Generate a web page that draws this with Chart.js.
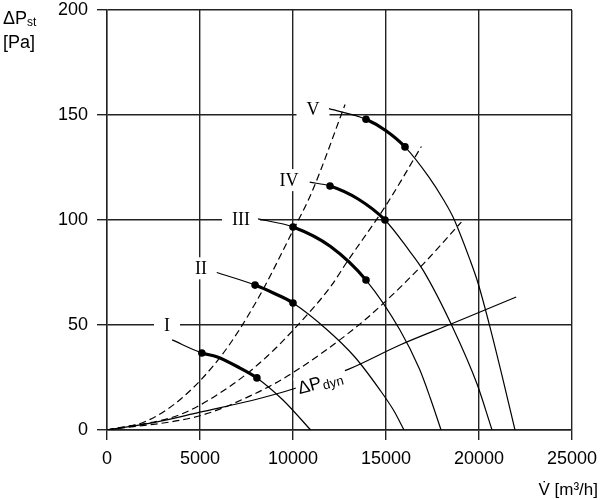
<!DOCTYPE html>
<html>
<head>
<meta charset="utf-8">
<script src="https://cdn.jsdelivr.net/npm/chart.js@4"></script>
<style>
  html, body { margin: 0; padding: 0; background: #fff; }
  #wrap { width: 600px; height: 500px; }
</style>
</head>
<body>
<div id="wrap"><canvas id="fanChart" width="600" height="500"></canvas></div>
<script>
const xTicks = [0, 5000, 10000, 15000, 20000, 25000];
const yTicks = [0, 50, 100, 150, 200];

// fan curves I..V  (flow m3/h, static pressure Pa), dots = thick part between them
const curveIFlow = [3500, 5100, 5900, 7150, 8060, 9460, 10950];
const curveIPress = [42.9, 36.7, 34.9, 29.5, 24.8, 14.3, 0];
const curveIDots = [1, 4];

const curveIIFlow = [5900, 7960, 9000, 10000, 11800, 13300, 14680, 15400, 15970];
const curveIIPress = [75, 69, 65, 60.5, 48, 35, 19, 9.5, 0];
const curveIIDots = [1, 3];

const curveIIIFlow = [8120, 10000, 12000, 13925, 15750, 16800, 17370, 17960];
const curveIIIPress = [100.5, 96.7, 87.5, 71.4, 47.6, 29, 15.5, 0];
const curveIIIDots = [1, 3];

const curveIVFlow = [10900, 11990, 13500, 14946, 16200, 17000, 18600, 19890, 20700];
const curveIVPress = [118, 116.2, 110, 100, 86, 76, 48.6, 22, 0];
const curveIVDots = [1, 3];

const curveVFlow = [11935, 13925, 15000, 16022, 17300, 18100, 18602, 19516, 19946, 20591, 21290, 21935];
const curveVPress = [153, 148, 142.5, 134.8, 120.5, 109.5, 101.4, 81, 70, 49, 24, 0];
const curveVDots = [1, 3];

// system curves (dashed)
const sys1Flow = [0, 2000, 4000, 6200, 8050, 10000, 11000, 12800];
const sys1Press = [0, 3.8, 15, 36, 61.5, 95, 113, 155];
const sys2Flow = [0, 4000, 6800, 8600, 10000, 12000, 12900, 15000, 16900];
const sys2Press = [0, 7.6, 22, 35, 47.5, 68, 80, 107, 135];
const sys3Flow = [0, 5000, 8000, 10000, 13200, 14700, 17000, 19050];
const sys3Press = [0, 6.8, 17.5, 27.3, 47.6, 59, 79, 99];

// dynamic pressure
const dynFlow = [0, 2500, 5000, 8200, 10000, 13000, 15750, 18500, 22000];
const dynPress = [0, 3.5, 8.5, 15, 19.5, 29, 40.5, 50.5, 63.3];

const curveNames = ['I', 'II', 'III', 'IV', 'V'];
const labelFlow = [3226, 5054, 7204, 9785, 11075];
const labelPress = [50, 77, 100.5, 119, 152.5];

const sansFont = '"Liberation Sans", Arial, sans-serif';
const serifFont = '"Liberation Serif", "Times New Roman", serif';

function toPoints(flow, press) {
    return flow.map((v, i) => ({ x: v, y: press[i] }));
}

function fanDataset(flow, press, dots) {
    return {
        data: toPoints(flow, press),
        showLine: true,
        borderColor: '#000',
        borderWidth: 1.2,
        cubicInterpolationMode: 'monotone',
        pointRadius: ctx => dots.includes(ctx.dataIndex) ? 3.8 : 0,
        pointBackgroundColor: '#000',
        pointBorderWidth: 0,
        segment: {
            borderWidth: ctx => (ctx.p0DataIndex >= dots[0] && ctx.p1DataIndex <= dots[1]) ? 3.2 : 1.2
        }
    };
}

function dashedDataset(flow, press) {
    return {
        data: toPoints(flow, press),
        showLine: true,
        borderColor: '#000',
        borderWidth: 1.2,
        borderDash: [7, 4],
        cubicInterpolationMode: 'monotone',
        pointRadius: 0
    };
}

// the tick labels would otherwise push the plot area inwards
function noScalePadding(scale) {
    scale.paddingTop = 0;
    scale.paddingBottom = 0;
    scale.paddingLeft = 0;
    scale.paddingRight = 0;
}

const annotate = {
    id: 'annotate',
    beforeDatasetsDraw(chart) {
        const { ctx, scales: { x, y } } = chart;
        ctx.save();
        ctx.font = '18px ' + serifFont;
        ctx.textAlign = 'center';
        ctx.textBaseline = 'middle';
        curveNames.forEach((name, i) => {
            const px = x.getPixelForValue(labelFlow[i]);
            const py = y.getPixelForValue(labelPress[i]);
            const w = ctx.measureText(name).width + 20;
            ctx.fillStyle = '#fff';
            ctx.fillRect(px - w / 2, py - 11, w, 22);
            ctx.fillStyle = '#000';
            ctx.fillText(name, px, py + 1);
        });
        ctx.restore();
    },
    afterDatasetsDraw(chart) {
        const { ctx, scales: { x, y } } = chart;
        const px = x.getPixelForValue(11560);
        const py = y.getPixelForValue(22.9);
        ctx.save();
        ctx.translate(px, py);
        ctx.rotate(-15 * Math.PI / 180);
        ctx.fillStyle = '#fff';
        ctx.fillRect(-27, -11, 52, 20);
        ctx.fillStyle = '#000';
        ctx.textBaseline = 'alphabetic';
        ctx.textAlign = 'left';
        ctx.font = '18px ' + sansFont;
        ctx.fillText('ΔP', -25, 6);
        const w = ctx.measureText('ΔP').width;
        ctx.font = '13px ' + sansFont;
        ctx.fillText('dyn', -25 + w + 1, 8);
        ctx.restore();
    },
    afterDraw(chart) {
        const ctx = chart.ctx;
        ctx.save();
        ctx.fillStyle = '#000';
        ctx.textBaseline = 'alphabetic';
        ctx.textAlign = 'left';
        ctx.font = '18px ' + sansFont;
        ctx.fillText('ΔP', 3, 24);
        const w = ctx.measureText('ΔP').width;
        ctx.font = '12px ' + sansFont;
        ctx.fillText('st', 3 + w, 26);
        ctx.font = '18px ' + sansFont;
        ctx.fillText('[Pa]', 3, 48);
        ctx.textAlign = 'right';
        ctx.font = '17px ' + sansFont;
        ctx.fillText('V\u0307 [m³/h]', 598, 495);
        ctx.restore();
    }
};

new Chart(document.getElementById('fanChart'), {
    type: 'scatter',
    data: {
        datasets: [
            dashedDataset(sys1Flow, sys1Press),
            dashedDataset(sys2Flow, sys2Press),
            dashedDataset(sys3Flow, sys3Press),
            {
                data: toPoints(dynFlow, dynPress),
                showLine: true,
                borderColor: '#000',
                borderWidth: 1.2,
                cubicInterpolationMode: 'monotone',
                pointRadius: 0
            },
            fanDataset(curveIFlow, curveIPress, curveIDots),
            fanDataset(curveIIFlow, curveIIPress, curveIIDots),
            fanDataset(curveIIIFlow, curveIIIPress, curveIIIDots),
            fanDataset(curveIVFlow, curveIVPress, curveIVDots),
            fanDataset(curveVFlow, curveVPress, curveVDots)
        ]
    },
    options: {
        responsive: false,
        animation: false,
        layout: { padding: { top: 10, right: 28, left: 0, bottom: 0 } },
        plugins: { legend: { display: false }, tooltip: { enabled: false } },
        scales: {
            x: {
                type: 'linear',
                min: 0,
                max: 25000,
                afterBuildTicks: scale => { scale.ticks = xTicks.map(v => ({ value: v })); },
                afterFit: scale => { scale.height = 70; noScalePadding(scale); },
                ticks: {
                    color: '#000',
                    padding: 10,
                    maxRotation: 0,
                    font: { size: 18, family: sansFont, lineHeight: 1 },
                    callback: v => String(v)
                },
                grid: { color: '#222', lineWidth: 1.4, tickLength: 10, tickColor: '#222' },
                border: { color: '#222', width: 1.4 }
            },
            y: {
                type: 'linear',
                min: 0,
                max: 200,
                afterBuildTicks: scale => { scale.ticks = yTicks.map(v => ({ value: v })); },
                afterFit: scale => { scale.width = 107; noScalePadding(scale); },
                ticks: {
                    color: '#000',
                    padding: 9,
                    font: { size: 18, family: sansFont, lineHeight: 1 },
                    callback: v => String(v)
                },
                grid: { color: '#222', lineWidth: 1.4, tickLength: 10, tickColor: '#222' },
                border: { color: '#222', width: 1.4 }
            }
        }
    },
    plugins: [annotate]
});
</script>
</body>
</html>
